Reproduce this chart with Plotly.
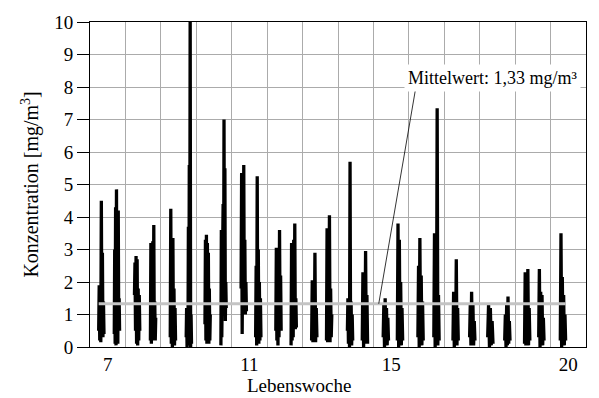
import plotly.graph_objects as go

# ---------------- data ----------------
week_tick_vals = [7, 11, 15, 20]
week_tick_text = ["7", "11", "15", "20"]

# centre (in Lebenswoche) of each ~1-day measurement period
cluster_week = [6.82, 7.26, 7.83, 8.28, 8.84, 9.29, 9.82, 10.27, 10.84, 11.25,
                11.82, 12.25, 12.83, 13.25, 13.84, 14.26, 14.85, 15.25, 15.83,
                16.28, 16.82, 17.29, 17.80, 18.28, 18.84, 19.24, 19.85]

# concentration readings (mg/m³) inside each measurement period, in time order
cluster_values = [
    [0.5, 1.9, 0.2, 1.5, 0.15, 4.5, 0.6, 2.9, 0.3, 1.4, 0.4],
    [0.4, 3.0, 0.1, 4.3, 0.05, 4.85, 0.5, 2.0, 0.1, 4.2, 0.6, 1.5, 0.5],
    [1.6, 2.6, 0.5, 2.8, 0.1, 2.7, 0.05, 1.8, 0.2, 1.6, 0.5],
    [0.2, 3.2, 0.1, 2.5, 0.3, 3.25, 0.2, 3.75, 0.3, 1.4, 0.2, 0.9],
    [0.3, 4.25, 0.1, 3.0, 0.0, 3.35, 0.1, 1.8, 0.05, 1.2, 0.2],
    [0.3, 1.2, 0.0, 0.9, 0.1, 3.7, 0.05, 5.6, 0.1, 10.5, 0.0, 1.0, 0.1],
    [0.7, 3.3, 0.2, 3.45, 0.1, 3.2, 0.3, 2.9, 0.1, 1.8, 0.2, 1.0],
    [0.05, 3.6, 0.3, 2.5, 1.2, 4.4, 1.0, 7.0, 1.3, 5.5, 0.8, 2.0, 1.2],
    [1.8, 5.35, 0.4, 3.0, 1.0, 5.6, 1.1, 3.3, 1.0, 2.0, 1.1],
    [0.3, 2.5, 0.05, 5.25, 0.1, 3.0, 0.1, 2.0, 0.2, 1.5, 0.3],
    [0.5, 3.05, 0.2, 2.2, 0.05, 2.4, 0.3, 3.6, 0.5, 2.2, 0.5],
    [0.05, 3.2, 0.2, 2.5, 0.3, 3.3, 0.6, 3.8, 0.55, 1.5, 0.6],
    [0.2, 2.05, 0.15, 1.6, 0.2, 2.9, 0.15, 1.2, 0.3],
    [0.2, 3.65, 0.15, 3.0, 0.2, 4.05, 0.15, 1.8, 0.3, 1.0],
    [0.5, 1.5, 0.1, 1.2, 0.0, 5.7, 0.1, 1.4, 0.05, 1.0, 0.2],
    [0.2, 2.3, 0.0, 1.8, 0.2, 2.95, 0.1, 1.6, 0.1],
    [0.3, 1.3, 0.0, 1.5, 0.1, 1.2, 0.05, 0.9, 0.2],
    [0.2, 3.8, 0.0, 3.3, 0.1, 2.0, 0.05, 1.2, 0.2],
    [0.3, 2.5, 0.0, 3.35, 0.1, 2.2, 0.05, 1.4, 0.2],
    [0.3, 3.5, 0.0, 2.5, 0.1, 7.35, 0.05, 1.6, 0.2],
    [0.2, 1.7, 0.0, 1.4, 0.2, 2.7, 0.05, 1.2, 0.2],
    [0.3, 1.3, 0.05, 1.7, 0.1, 1.3, 0.05, 0.8, 0.2],
    [0.3, 1.3, 0.0, 1.2, 0.05, 0.8, 0.1],
    [0.2, 1.0, 0.0, 1.3, 0.05, 1.55, 0.1, 0.8, 0.2],
    [0.1, 2.3, 0.05, 1.8, 0.1, 2.4, 0.05, 1.2, 0.2],
    [0.3, 2.4, 0.0, 1.7, 0.1, 1.6, 0.05, 0.9, 0.2],
    [0.2, 3.5, 0.0, 2.15, 0.1, 1.6, 0.05, 1.0, 0.2],
]

cluster_span = 0.15          # duration of one measurement period (weeks)
mean_value = 1.33
mean_label = "Mittelwert: 1,33 mg/m³"

# ---------------- build series ----------------
xs, ys = [], []
for c, vals in zip(cluster_week, cluster_values):
    n = len(vals)
    start = c - cluster_span / 2
    for i, v in enumerate(vals):
        xs.append(start + i * cluster_span / (n - 1))
        ys.append(v)
    xs.append(None)
    ys.append(None)

x_first = cluster_week[0] - cluster_span / 2
x_last = cluster_week[-1] + cluster_span / 2

FONT = "Liberation Serif"

fig = go.Figure()
fig.add_trace(go.Scatter(x=xs, y=ys, mode="lines", connectgaps=False,
                         line=dict(color="black", width=3.3),
                         hoverinfo="skip", showlegend=False))
fig.add_trace(go.Scatter(x=[x_first, x_last], y=[mean_value, mean_value],
                         mode="lines", line=dict(color="#c4c4c4", width=3),
                         hoverinfo="skip", showlegend=False))

W, H = 599, 398
ML, MR, MT, MB = 90, 12, 18, 51
plot_w = W - ML - MR

fig.update_layout(
    width=W, height=H,
    margin=dict(l=ML, r=MR, t=MT, b=MB, pad=0),
    paper_bgcolor="white", plot_bgcolor="white",
    font=dict(family=FONT, size=19, color="black"),
    showlegend=False,
)

fig.update_xaxes(
    range=[6.5, 20.5],
    tickmode="array", tickvals=week_tick_vals, ticktext=week_tick_text,
    ticks="", showgrid=False, zeroline=False,
    showline=True, linecolor="black", linewidth=1, mirror=True,
    tickfont=dict(family=FONT, size=19, color="black"),
    minor=dict(tick0=6.5, dtick=1, showgrid=True, gridcolor="#ababab",
               gridwidth=1, ticks=""),
)
fig.update_yaxes(
    range=[0, 10], dtick=1, tick0=0,
    ticks="outside", ticklen=12, tickcolor="black", tickwidth=1,
    showgrid=True, gridcolor="#ababab", gridwidth=1, zeroline=False,
    showline=True, linecolor="black", linewidth=1, mirror=True,
    tickfont=dict(family=FONT, size=19, color="black"),
)

# axis titles
fig.add_annotation(text="Lebenswoche", xref="paper", yref="paper",
                   x=(W / 2 - ML) / plot_w, y=0, yshift=-38,
                   xanchor="center", yanchor="middle", showarrow=False,
                   font=dict(family=FONT, size=19, color="black"))
fig.add_annotation(text="Konzentration [mg/m<sup>3</sup>]", xref="paper", yref="paper",
                   x=(30 - ML) / plot_w, y=0.5, textangle=-90,
                   xanchor="center", yanchor="middle", showarrow=False,
                   font=dict(family=FONT, size=20, color="black"))

# leader line from the mean line to the label
fig.add_shape(type="line", xref="x", yref="y",
              x0=14.65, y0=mean_value, x1=15.70, y1=8.01,
              line=dict(color="black", width=0.8), layer="above")

# mean label
fig.add_annotation(text=mean_label, x=17.87, y=8.27, xref="x", yref="y",
                   showarrow=False, bgcolor="white", borderpad=3,
                   xanchor="center", yanchor="middle",
                   font=dict(family=FONT, size=18, color="black"))

fig.write_html("out.html")
